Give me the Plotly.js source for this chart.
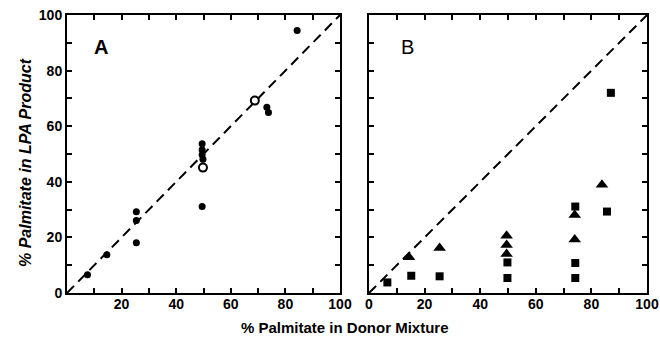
<!DOCTYPE html>
<html><head><meta charset="utf-8">
<script src="https://cdn.plot.ly/plotly-3.0.1.min.js"></script>
<style>html,body{margin:0;padding:0;background:#fff}#c{width:660px;height:338px}</style>
</head><body><div id="c"></div>
<script>
// Panel A: filled circles
const aFilledX = [7.5, 14.6, 25.4, 25.4, 25.4, 49.5, 49.5, 49.5, 49.5, 49.8, 73.2, 73.8, 84.3];
const aFilledY = [6.6, 13.8, 29.2, 26.1, 18.1, 31.1, 53.7, 51.5, 49.7, 48.1, 66.8, 64.9, 94.4];
// Panel A: open circles
const aOpenX = [49.8, 68.8];
const aOpenY = [45.1, 69.2];
// Panel B: triangles
const bTriX = [14.4, 25.4, 49.5, 49.5, 49.5, 74.0, 74.0, 83.8];
const bTriY = [12.9, 16.2, 20.6, 17.3, 14.0, 28.1, 19.2, 38.9];
// Panel B: squares
const bSqX = [6.6, 15.2, 25.4, 49.8, 49.8, 74.2, 74.2, 74.2, 85.6, 87.0];
const bSqY = [3.8, 6.2, 6.0, 11.0, 5.4, 31.1, 10.8, 5.4, 29.3, 72.0];
// identity line
const diagX = [0, 100];
const diagY = [0, 100];
// ticks
const tickVals = [0,10,20,30,40,50,60,70,80,90,100];
const aXText = ['','', '20','', '40','', '60','', '80','', '100'];
const bXText = ['0','', '20','', '40','', '60','', '80','', '100'];
const yText = ['0','', '20','', '40','', '60','', '80','', '100'];

const FAM = 'Liberation Sans, Arial, sans-serif';
const fnt = {family: FAM, size: 14, color: '#000', weight: 'bold'};
const dashLine = {color: '#000', width: 2, dash: '10px,6px'};

const traces = [
  {x: diagX, y: diagY, mode: 'lines', line: dashLine, xaxis: 'x', yaxis: 'y', hoverinfo: 'skip'},
  {x: aFilledX, y: aFilledY, mode: 'markers', marker: {symbol: 'circle', size: 7, color: '#000'}, xaxis: 'x', yaxis: 'y'},
  {x: aOpenX, y: aOpenY, mode: 'markers', marker: {symbol: 'circle-open', size: 8, color: '#000', line: {width: 2, color: '#000'}}, xaxis: 'x', yaxis: 'y'},
  {x: diagX, y: diagY, mode: 'lines', line: dashLine, xaxis: 'x2', yaxis: 'y2', hoverinfo: 'skip'},
  {x: bSqX, y: bSqY, mode: 'markers', marker: {symbol: 'square', size: 8, color: '#000'}, xaxis: 'x2', yaxis: 'y2'},
  {x: bTriX, y: bTriY, mode: 'markers', marker: {symbol: 'triangle-up', size: 11, color: '#000'}, xaxis: 'x2', yaxis: 'y2'}
];

const axBase = {range: [0, 100], tickmode: 'array', tickvals: tickVals, ticks: 'inside', ticklen: 5, tickwidth: 2,
  tickcolor: '#000', showline: true, linewidth: 2, linecolor: '#000', mirror: 'ticks', showgrid: false, zeroline: false,
  tickfont: fnt, fixedrange: true};

const layout = {
  width: 660, height: 338,
  margin: {l: 0, r: 0, t: 0, b: 0},
  paper_bgcolor: '#fff', plot_bgcolor: '#fff',
  showlegend: false,
  xaxis: Object.assign({}, axBase, {domain: [67/660, 340/660], ticktext: aXText, anchor: 'y', ticklabelstandoff: -3}),
  yaxis: Object.assign({}, axBase, {domain: [1-293/338, 1-15/338], ticktext: yText, anchor: 'x', ticklabelstandoff: 0}),
  xaxis2: Object.assign({}, axBase, {domain: [369/660, 647/660], ticktext: bXText, anchor: 'y2', ticklabelstandoff: -3}),
  yaxis2: Object.assign({}, axBase, {domain: [1-293/338, 1-15/338], ticktext: tickVals.map(()=>''), anchor: 'x2'}),
  annotations: [
    {text: 'A', xref: 'x', yref: 'y', x: 12.3, y: 88.6, xanchor: 'center', yanchor: 'middle', showarrow: false, font: {family: FAM, size: 20, color: '#000', weight: 'bold'}},
    {text: 'B', xref: 'x2', yref: 'y2', x: 13.8, y: 88.6, xanchor: 'center', yanchor: 'middle', showarrow: false, font: {family: FAM, size: 20, color: '#000'}},
    {text: '% Palmitate in Donor Mixture', xref: 'paper', yref: 'paper', x: 345/660, y: 1-327/338, xanchor: 'center', yanchor: 'middle', showarrow: false,
      font: {family: FAM, size: 15, color: '#000', weight: 'bold'}},
    {text: '% Palmitate in LPA Product', xref: 'paper', yref: 'paper', x: 25/660, y: 1-163/338, xanchor: 'center', yanchor: 'middle', textangle: -90, showarrow: false,
      font: {family: FAM, size: 16, color: '#000', weight: 'bold', style: 'italic'}}
  ]
};

Plotly.newPlot('c', traces, layout, {displayModeBar: false, staticPlot: true});
</script>
</body></html>
